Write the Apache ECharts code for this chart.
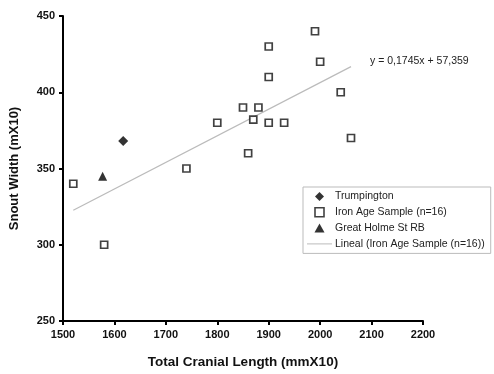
<!DOCTYPE html>
<html>
<head>
<meta charset="utf-8">
<script src="https://cdn.jsdelivr.net/npm/echarts@6/dist/echarts.min.js"></script>
<style>
  html, body { margin: 0; padding: 0; background: #fff; }
  #chart { width: 494px; height: 374px; }
</style>
</head>
<body>
<div id="chart"></div>
<script>
// values
const trumpington = [[1617, 368]];
const ironAge = [
  [1520, 340], [1580, 300], [1740, 350], [1800, 380], [1850, 390], [1860, 360],
  [1870, 382], [1880, 390], [1900, 380], [1900, 410], [1900, 430], [1930, 380],
  [1990, 440], [2000, 420], [2040, 400], [2060, 370]
];
const greatHolme = [[1577, 345]];
const trendLine = [[1520, 322.6], [2060, 416.8]];
const xTicks = { min: 1500, max: 2200, step: 100 };
const yTicks = { min: 250, max: 450, step: 50 };

const font = 'Liberation Sans, Arial, sans-serif';
// legend keys as paths so they keep their shape
const icons = {
  diamond: 'path://M5,0L10,5L5,10L0,5z',
  square: 'path://M0,0h10v10h-10z',
  triangle: 'path://M5,0L10,9L0,9z',
  line: 'path://M0,0h25v1h-25z'
};
var myChart = echarts.init(document.getElementById('chart'));

myChart.setOption({
  animation: false,
  backgroundColor: '#fff',
  grid: { left: 62, right: 71, top: 16, bottom: 48 },
  xAxis: {
    type: 'value',
    min: xTicks.min, max: xTicks.max, interval: xTicks.step,
    name: 'Total Cranial Length (mmX10)',
    nameLocation: 'middle',
    nameGap: 34,
    nameTextStyle: { fontFamily: font, fontWeight: 'bold', fontSize: 13.5, color: '#111' },
    axisLine: { lineStyle: { color: '#000', width: 2 } },
    axisTick: { length: 4, lineStyle: { color: '#000', width: 2 } },
    axisLabel: {
      fontFamily: font, fontWeight: 'bold', fontSize: 11, color: '#111', margin: 8,
      formatter: function (v) { return String(v); }
    },
    splitLine: { show: false }
  },
  yAxis: {
    type: 'value',
    min: yTicks.min, max: yTicks.max, interval: yTicks.step,
    name: 'Snout Width (mX10)',
    nameLocation: 'middle',
    nameGap: 42,
    nameTextStyle: { fontFamily: font, fontWeight: 'bold', fontSize: 13, color: '#111' },
    axisLine: { show: true, lineStyle: { color: '#000', width: 2 } },
    axisTick: { show: true, length: 4, lineStyle: { color: '#000', width: 2 } },
    axisLabel: { fontFamily: font, fontWeight: 'bold', fontSize: 11, color: '#111', margin: 8 },
    splitLine: { show: false }
  },
  legend: {
    orient: 'vertical',
    left: 303, top: 187,
    width: 188,
    padding: [4, 6, 4, 4],
    itemGap: 4.8,
    itemWidth: 25, itemHeight: 9,
    symbolKeepAspect: true,
    borderColor: '#bbb', borderWidth: 1,
    textStyle: { fontFamily: font, fontSize: 10.5, color: '#222', padding: [0, 0, 0, -2] },
    data: [
      { name: 'Trumpington', icon: icons.diamond },
      { name: 'Iron Age Sample (n=16)', icon: icons.square,
        itemStyle: { color: '#fff', borderColor: '#111', borderWidth: 1.6 } },
      { name: 'Great Holme St RB', icon: icons.triangle },
      { name: 'Lineal (Iron Age Sample (n=16))', icon: icons.line,
        itemStyle: { color: '#bbb', borderWidth: 0 } }
    ]
  },
  graphic: [{
    type: 'text', left: 370, top: 56,
    style: { text: 'y = 0,1745x + 57,359', font: '10.5px ' + font, fill: '#222' }
  }],
  series: [
    {
      name: 'Trumpington', type: 'scatter', data: trumpington,
      symbol: 'diamond', symbolSize: 10,
      itemStyle: { color: '#000' }, z: 5
    },
    {
      name: 'Iron Age Sample (n=16)', type: 'scatter', data: ironAge,
      symbol: 'rect', symbolSize: 7,
      itemStyle: { color: '#fff', borderColor: '#111', borderWidth: 1.7 }, z: 5
    },
    {
      name: 'Great Holme St RB', type: 'scatter', data: greatHolme,
      symbol: 'triangle', symbolSize: 9,
      itemStyle: { color: '#000' }, z: 5
    },
    {
      name: 'Lineal (Iron Age Sample (n=16))', type: 'line', data: trendLine,
      symbol: 'none', showSymbol: false,
      lineStyle: { color: '#bbb', width: 1.2 },
      itemStyle: { color: '#bbb' }, z: 2
    }
  ]
});
</script>
</body>
</html>
